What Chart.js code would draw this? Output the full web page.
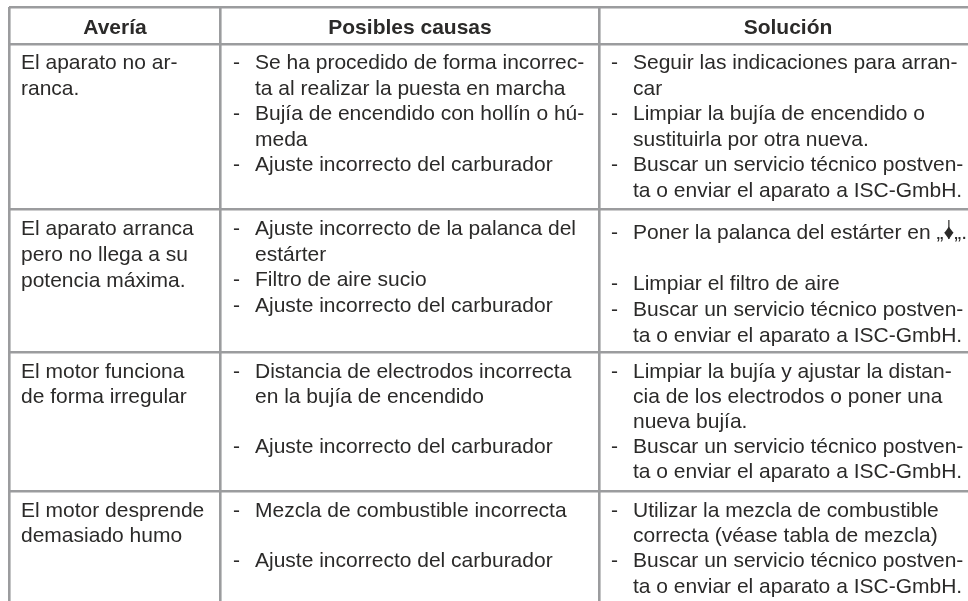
<!DOCTYPE html>
<html>
<head>
<meta charset="utf-8">
<style>html,body{margin:0;padding:0;background:#fff}#wrap{width:968px;height:601px}</style>
<script src="https://cdn.jsdelivr.net/npm/chart.js@4"></script>
</head>
<body>
<div id="wrap"><canvas id="tableChart"></canvas></div>
<script>
const headers = ["Avería", "Posibles causas", "Solución"];

const faults = [
  ["El aparato no ar-", "ranca."],
  ["El aparato arranca", "pero no llega a su", "potencia máxima."],
  ["El motor funciona", "de forma irregular"],
  ["El motor desprende", "demasiado humo"]
];

const causes = [
  ["- Se ha procedido de forma incorrec-", "ta al realizar la puesta en marcha", "- Bujía de encendido con hollín o hú-", "meda", "- Ajuste incorrecto del carburador"],
  ["- Ajuste incorrecto de la palanca del", "estárter", "- Filtro de aire sucio", "- Ajuste incorrecto del carburador"],
  ["- Distancia de electrodos incorrecta", "en la bujía de encendido", "- Ajuste incorrecto del carburador"],
  ["- Mezcla de combustible incorrecta", "- Ajuste incorrecto del carburador"]
];

const solutions = [
  ["- Seguir las indicaciones para arran-", "car", "- Limpiar la bujía de encendido o", "sustituirla por otra nueva.", "- Buscar un servicio técnico postven-", "ta o enviar el aparato a ISC-GmbH."],
  ["- Poner la palanca del estárter en „♦„.", "- Limpiar el filtro de aire", "- Buscar un servicio técnico postven-", "ta o enviar el aparato a ISC-GmbH."],
  ["- Limpiar la bujía y ajustar la distan-", "cia de los electrodos o poner una", "nueva bujía.", "- Buscar un servicio técnico postven-", "ta o enviar el aparato a ISC-GmbH."],
  ["- Utilizar la mezcla de combustible", "correcta (véase tabla de mezcla)", "- Buscar un servicio técnico postven-", "ta o enviar el aparato a ISC-GmbH."]
];

// baselines of each text line, in y scale units
const faultLines = [[69, 95], [235, 261, 287], [378, 403], [517, 542]];
const causeLines = [[69, 95, 120, 146, 171], [235, 261, 286, 312], [378, 403, 453], [517, 567]];
const solutionLines = [[69, 95, 120, 146, 171, 197], [239, 290, 316, 342], [378, 403, 428, 453, 478], [517, 542, 567, 593]];

const columnEdges = [9, 220, 599];
const rowEdges = [7, 44, 209, 352, 491];

const tableText = {
  id: 'tableText',
  afterDraw(chart) {
    const ctx = chart.ctx, x = chart.scales.x, y = chart.scales.y;
    ctx.save();
    ctx.fillStyle = '#2b2a29';
    ctx.strokeStyle = '#2b2a29';
    ctx.textBaseline = 'alphabetic';

    // header row
    ctx.font = 'bold 21px "Liberation Sans"';
    ctx.textAlign = 'center';
    const headerCentres = [115, 410, 788];
    headers.forEach((h, i) => ctx.fillText(h, x.getPixelForValue(headerCentres[i]), y.getPixelForValue(33.5)));

    ctx.font = '21px "Liberation Sans"';
    ctx.textAlign = 'left';
    faults.forEach((cell, r) => cell.forEach((t, i) => {
      ctx.fillText(t, x.getPixelForValue(21), y.getPixelForValue(faultLines[r][i]));
    }));

    function drawList(cells, lines, dashX, textX) {
      cells.forEach((cell, r) => cell.forEach((t, i) => {
        const py = y.getPixelForValue(lines[r][i]);
        if (t.startsWith('- ')) {
          ctx.fillText('-', x.getPixelForValue(dashX), py);
          t = t.slice(2);
        }
        const px = x.getPixelForValue(textX);
        ctx.fillText(t, px, py);
        // starter symbol: the diamond sits on a vertical stem
        const mark = t.indexOf('♦');
        if (mark >= 0) {
          const cx = px + ctx.measureText(t.slice(0, mark)).width + ctx.measureText('♦').width / 2;
          ctx.lineWidth = 1.2;
          ctx.beginPath();
          ctx.moveTo(cx, py - 19);
          ctx.lineTo(cx, py);
          ctx.stroke();
        }
      }));
    }
    drawList(causes, causeLines, 233, 255);
    drawList(solutions, solutionLines, 611, 633);
    ctx.restore();
  }
};

new Chart(document.getElementById('tableChart'), {
  type: 'scatter',
  data: { datasets: [{ data: [], showLine: false }] },
  plugins: [tableText],
  options: {
    responsive: true,
    maintainAspectRatio: false,
    animation: { duration: 0 },
    events: [],
    layout: { padding: { left: 9, top: 7, right: 0, bottom: 0 } },
    plugins: { legend: { display: false }, tooltip: { enabled: false }, title: { display: false } },
    scales: {
      x: {
        type: 'linear', min: 9, max: 968,
        afterBuildTicks: s => { s.ticks = columnEdges.map(v => ({ value: v })); },
        ticks: { display: false },
        border: { display: false },
        grid: { color: '#9b9c9e', lineWidth: 2.6, drawTicks: false }
      },
      y: {
        type: 'linear', min: 7, max: 601, reverse: true,
        afterBuildTicks: s => { s.ticks = rowEdges.map(v => ({ value: v })); },
        ticks: { display: false },
        border: { display: false },
        grid: { color: '#9b9c9e', lineWidth: 2.6, drawTicks: false }
      }
    }
  }
});
</script>
</body>
</html>
